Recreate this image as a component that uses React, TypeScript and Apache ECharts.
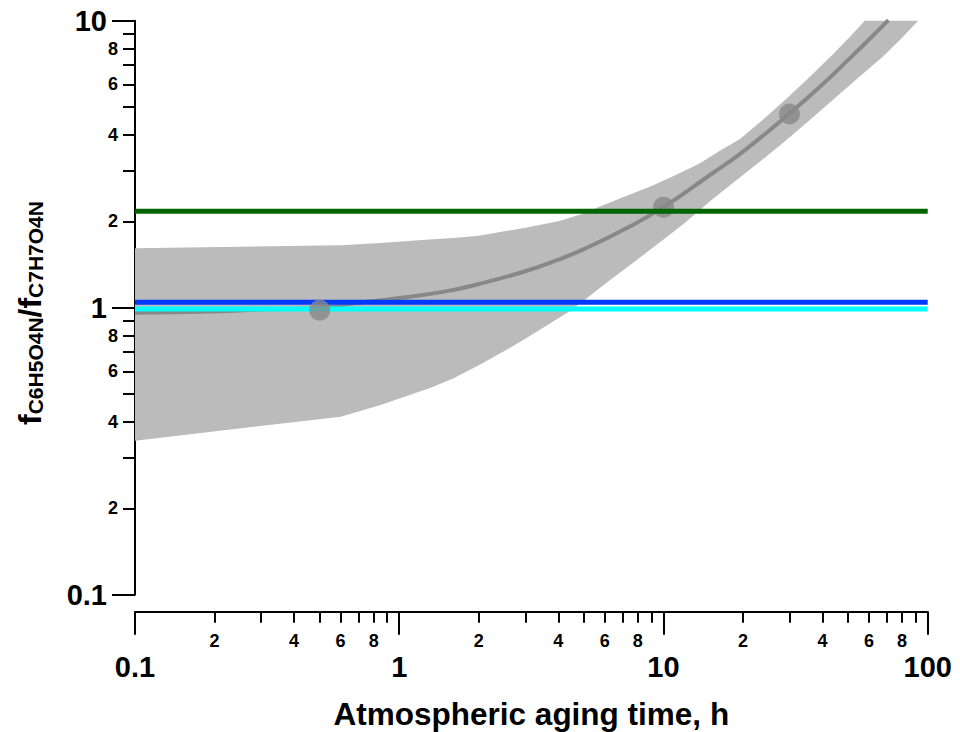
import React, { useEffect, useRef } from "react";
import * as echarts from "echarts";

// ---- tick values / labels ----
const xMajorTicks = [0.1, 1, 10, 100];
const xMinorTicks = [
  0.2, 0.3, 0.4, 0.5, 0.6, 0.7, 0.8, 0.9,
  2, 3, 4, 5, 6, 7, 8, 9,
  20, 30, 40, 50, 60, 70, 80, 90,
];
const xMinorLabels = [0.2, 0.4, 0.6, 0.8, 2, 4, 6, 8, 20, 40, 60, 80];
const yMajorTicks = [0.1, 1, 10];
const yMinorTicks = [0.2, 0.3, 0.4, 0.5, 0.6, 0.7, 0.8, 0.9, 2, 3, 4, 5, 6, 7, 8, 9];
const yMinorLabels = [0.2, 0.4, 0.6, 0.8, 2, 4, 6, 8];

// ---- fitted curve ----
const fitTime = [0.1, 0.2, 0.3, 0.5, 0.7, 1, 1.5, 2, 3, 4, 5, 7, 10, 15, 20, 30, 40, 50, 60, 71];
const fitRatio = [0.96, 0.97, 0.985, 1.0, 1.04, 1.08, 1.14, 1.21, 1.34, 1.47, 1.6, 1.86, 2.24, 2.9, 3.5, 4.75, 6.0, 7.3, 8.6, 10.05];

// ---- observations ----
const obsTime = [0.5, 10, 30];
const obsRatio = [0.98, 2.24, 4.73];

// ---- uncertainty band ----
const bandUpperTime = [0.1, 0.6, 0.85, 1.3, 1.6, 2, 3, 4, 5, 5.75, 7.14, 8.88, 11.04, 13.7, 16.34, 19.5, 24.2, 30.1, 36.4, 43.7, 50.7, 57.8, 70, 92];
const bandUpperRatio = [1.61, 1.65, 1.68, 1.73, 1.75, 1.78, 1.9, 2.0, 2.13, 2.25, 2.44, 2.64, 2.89, 3.18, 3.52, 3.87, 4.58, 5.49, 6.47, 7.62, 8.77, 10.0, 11.9, 16];
const bandLowerTime = [0.1, 0.6, 0.85, 1.3, 1.6, 2, 2.5, 3, 4.4, 5, 6, 7.5, 10, 12, 15, 18.3, 23, 28.3, 35, 43.7, 55, 67.6, 80, 92];
const bandLowerRatio = [0.344, 0.417, 0.458, 0.524, 0.567, 0.63, 0.706, 0.78, 0.97, 1.06, 1.21, 1.41, 1.73, 1.97, 2.35, 2.72, 3.21, 3.75, 4.43, 5.29, 6.36, 7.49, 8.73, 10];

// ---- reference lines ----
const refGreen = 2.17;
const refBlue = 1.045;
const refCyan = 0.99;
const xRange = [0.1, 100];

const FONT = "Liberation Sans, Arial, Helvetica, sans-serif";

const fmtMajor = (v: number) => String(Number(v.toPrecision(6)));
const fmtMinor = (v: number) => {
  const e = Math.floor(Math.log10(v) + 1e-9);
  return String(Math.round(v / Math.pow(10, e)));
};

export default function App() {
  const ref = useRef<HTMLDivElement>(null);

  useEffect(() => {
    if (!ref.current) return;
    const chart = echarts.init(ref.current, undefined, { renderer: "svg" });

    const axisLine = { show: true, lineStyle: { color: "#000", width: 2 } };

    const option: any = {
      animation: false,
      backgroundColor: "#fff",
      grid: { left: 135, right: 32.3, top: 20.7, bottom: 137.3, containLabel: false, outerBoundsMode: "none" },
      xAxis: [
        {
          type: "log",
          position: "bottom",
          min: xRange[0],
          max: xRange[1],
          offset: 17,
          axisLine,
          axisTick: { show: true, customValues: xMajorTicks, length: 23, lineStyle: { color: "#000", width: 2 } },
          axisLabel: {
            customValues: xMajorTicks,
            formatter: fmtMajor,
            fontSize: 29,
            fontWeight: "bold",
            fontFamily: FONT,
            color: "#000",
            margin: 41,
          },
          splitLine: { show: false },
          name: "Atmospheric aging time, h",
          nameLocation: "middle",
          nameGap: 86,
          nameTextStyle: { fontSize: 31.5, fontWeight: "bold", fontFamily: FONT, color: "#000" },
        },
        {
          type: "log",
          position: "bottom",
          min: xRange[0],
          max: xRange[1],
          offset: 17,
          axisLine: { show: false },
          axisTick: { show: true, customValues: xMinorTicks, length: 11, lineStyle: { color: "#000", width: 2 } },
          axisLabel: {
            customValues: xMinorLabels,
            formatter: fmtMinor,
            fontSize: 18,
            fontWeight: "bold",
            fontFamily: FONT,
            color: "#000",
            margin: 20,
          },
          splitLine: { show: false },
        },
      ],
      yAxis: [
        {
          type: "log",
          position: "left",
          min: 0.1,
          max: 10,
          axisLine,
          axisTick: { show: true, customValues: yMajorTicks, length: 23, lineStyle: { color: "#000", width: 2 } },
          axisLabel: {
            customValues: yMajorTicks,
            formatter: fmtMajor,
            fontSize: 29,
            fontWeight: "bold",
            fontFamily: FONT,
            color: "#000",
            margin: 28,
          },
          splitLine: { show: false },
        },
        {
          type: "log",
          position: "left",
          min: 0.1,
          max: 10,
          axisLine: { show: false },
          axisTick: { show: true, customValues: yMinorTicks, length: 12, lineStyle: { color: "#000", width: 2 } },
          axisLabel: {
            customValues: yMinorLabels,
            formatter: fmtMinor,
            fontSize: 18,
            fontWeight: "bold",
            fontFamily: FONT,
            color: "#000",
            margin: 17,
          },
          splitLine: { show: false },
        },
      ],
      graphic: [
        {
          type: "text",
          x: 30,
          y: 313,
          rotation: Math.PI / 2,
          style: {
            text: "{f|f}{s|C6H5O4N}{f|/f}{s|C7H7O4N}",
            align: "center",
            verticalAlign: "middle",
            fill: "#000",
            rich: {
              f: { font: "bold 32px Liberation Sans, Arial, sans-serif", lineHeight: 32, verticalAlign: "bottom", fill: "#000" },
              s: { font: "bold 21px Liberation Sans, Arial, sans-serif", lineHeight: 19, verticalAlign: "bottom", fill: "#000" },
            },
          },
        },
      ],
      series: [
        {
          type: "custom",
          name: "band",
          xAxisIndex: 0,
          yAxisIndex: 0,
          silent: true,
          data: [[1, 1]],
          renderItem: (params: any, api: any) => {
            const pts: number[][] = [];
            for (let i = 0; i < bandUpperTime.length; i++) pts.push(api.coord([bandUpperTime[i], bandUpperRatio[i]]));
            for (let i = bandLowerTime.length - 1; i >= 0; i--) pts.push(api.coord([bandLowerTime[i], bandLowerRatio[i]]));
            const cs = params.coordSys;
            return {
              type: "polygon",
              shape: { points: pts },
              style: { fill: "#bbbbbb", stroke: null },
              clipPath: { type: "rect", shape: { x: cs.x, y: cs.y, width: cs.width, height: cs.height } },
            };
          },
          z: 1,
        },
        {
          type: "line",
          name: "fit",
          data: fitTime.map((t, i) => [t, fitRatio[i]]),
          symbol: "none",
          smooth: true,
          lineStyle: { color: "#888888", width: 4 },
          clip: true,
          silent: true,
          z: 2,
        },
        {
          type: "line",
          name: "cyan",
          data: xRange.map((t) => [t, refCyan]),
          symbol: "none",
          lineStyle: { color: "#00ffff", width: 5 },
          silent: true,
          z: 3,
        },
        {
          type: "line",
          name: "blue",
          data: xRange.map((t) => [t, refBlue]),
          symbol: "none",
          lineStyle: { color: "#0038ff", width: 5 },
          silent: true,
          z: 3,
        },
        {
          type: "scatter",
          name: "obs",
          data: obsTime.map((t, i) => [t, obsRatio[i]]),
          symbol: "circle",
          symbolSize: 21,
          itemStyle: { color: "#888888" },
          silent: true,
          z: 4,
        },
        {
          type: "line",
          name: "green",
          data: xRange.map((t) => [t, refGreen]),
          symbol: "none",
          lineStyle: { color: "#006400", width: 5 },
          silent: true,
          z: 5,
        },
      ],
    };

    chart.setOption(option);
    return () => chart.dispose();
  }, []);

  return (
    <div
      ref={ref}
      style={{ position: "fixed", left: 0, top: 0, width: 960, height: 732, background: "#fff" }}
    />
  );
}
